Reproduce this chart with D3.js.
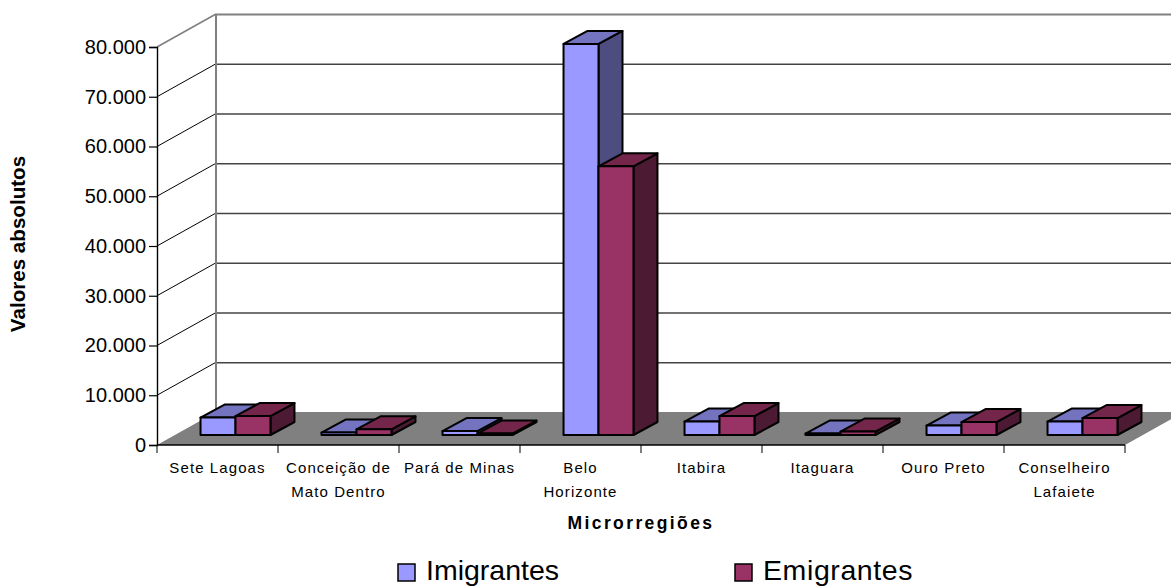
<!DOCTYPE html>
<html>
<head>
<meta charset="utf-8">
<script src="https://cdn.jsdelivr.net/npm/d3@7"></script>
<style>
    html, body { margin: 0; padding: 0; background: #fff; overflow: hidden; }
    text { font-family: "Liberation Sans", Arial, sans-serif; fill: #000; }
</style>
</head>
<body>
<div id="chart"></div>
<script>
var svgWidth = 1171;
var svgHeight = 586;

var categories = ["Sete Lagoas", "Conceição de Mato Dentro", "Pará de Minas", "Belo Horizonte",
    "Itabira", "Itaguara", "Ouro Preto", "Conselheiro Lafaiete"];
var categoryLines = [["Sete Lagoas"], ["Conceição de", "Mato Dentro"], ["Pará de Minas"], ["Belo", "Horizonte"],
    ["Itabira"], ["Itaguara"], ["Ouro Preto"], ["Conselheiro", "Lafaiete"]];
var seriesNames = ["Imigrantes", "Emigrantes"];
var imigrantes = [3500, 500, 800, 78600, 2700, 300, 1900, 2700];
var emigrantes = [3800, 1150, 300, 54000, 3800, 700, 2600, 3400];
var yTicks = [0, 10000, 20000, 30000, 40000, 50000, 60000, 70000, 80000];

// front, top and side shades of each series
var shades = [
    { front: "#9999ff", top: "#7373bf", side: "#4d4d80" },
    { front: "#993366", top: "#732649", side: "#4d1a33" }
];

// plot box on the front plane
var left = 157, right = 1125, bottom = 445, top_ = 47;

// oblique offsets: whole floor depth, bar depth, and gap in front of the bars
var depth = { x: 59, y: -33 };
var barDepth = { x: 24, y: -13 };
var barShift = { x: 18, y: -10 };

var svg = d3.select("#chart")
    .append("svg")
    .attr("width", svgWidth)
    .attr("height", svgHeight);

var xScale = d3.scaleBand()
    .domain(categories)
    .range([left, right])
    .paddingInner(0)
    .paddingOuter(0);

var xSeries = d3.scaleBand()
    .domain(seriesNames)
    .range([0, xScale.step()])
    .paddingOuter(0.73)
    .paddingInner(0);

var yScale = d3.scaleLinear()
    .domain([0, 80000])
    .range([bottom, top_]);

var formatTick = d3.format(",");

function points(list) {
    return list.map(p => p.join(",")).join(" ");
}

// back wall gridlines, clipped by the window on the right
svg.selectAll(".grid")
    .data(yTicks.slice(1))
    .enter()
    .append("line")
    .attr("x1", left + depth.x)
    .attr("x2", right + depth.x)
    .attr("y1", d => yScale(d) + depth.y + 0.5)
    .attr("y2", d => yScale(d) + depth.y + 0.5)
    .attr("stroke", d => d === 80000 ? "#808080" : "#444")
    .attr("stroke-width", d => d === 80000 ? 2 : 1.3);

// side wall lines
svg.selectAll(".wall")
    .data(yTicks.slice(1))
    .enter()
    .append("line")
    .attr("x1", left)
    .attr("y1", d => yScale(d))
    .attr("x2", left + depth.x)
    .attr("y2", d => yScale(d) + depth.y)
    .attr("stroke", d => d === 80000 ? "#808080" : "#000")
    .attr("stroke-width", d => d === 80000 ? 1.6 : 1);

svg.append("line")
    .attr("x1", left + depth.x)
    .attr("x2", left + depth.x)
    .attr("y1", yScale(80000) + depth.y)
    .attr("y2", bottom + depth.y)
    .attr("stroke", "#808080")
    .attr("stroke-width", 2);

// floor
svg.append("polygon")
    .attr("points", points([[left, bottom], [right, bottom],
        [right + depth.x, bottom + depth.y], [left + depth.x, bottom + depth.y]]))
    .attr("fill", "#808080");

// y axis
var yAxis = d3.axisLeft(yScale)
    .tickValues(yTicks)
    .tickSize(8)
    .tickPadding(3)
    .tickFormat(d => formatTick(d).replace(/,/g, "."));

var yAxisGroup = svg.append("g")
    .attr("transform", `translate(${left}, 0)`)
    .call(yAxis);

yAxisGroup.selectAll("text").attr("font-size", 20);
yAxisGroup.selectAll("line").attr("stroke-width", 1.2);
yAxisGroup.select(".domain").attr("stroke-width", 1.4);

// x axis line, with ticks on the band edges
svg.append("line")
    .attr("x1", left)
    .attr("x2", right)
    .attr("y1", bottom)
    .attr("y2", bottom)
    .attr("stroke", "#000")
    .attr("stroke-width", 1.4);

svg.selectAll(".xtick")
    .data(categories.concat("end"))
    .enter()
    .append("line")
    .attr("x1", (d, i) => left + i * xScale.step())
    .attr("x2", (d, i) => left + i * xScale.step())
    .attr("y1", bottom)
    .attr("y2", bottom + 8)
    .attr("stroke", "#000")
    .attr("stroke-width", 1);

// bars are drawn left to right so that later ones overlap earlier sides
function drawBar(category, seriesIndex, value) {
    var x0 = xScale(category) + xSeries(seriesNames[seriesIndex]) + barShift.x;
    var x1 = x0 + xSeries.bandwidth();
    var y0 = bottom + barShift.y;
    var y1 = yScale(value) + barShift.y;
    var dx = barDepth.x, dy = barDepth.y;
    var shade = shades[seriesIndex];

    var bar = svg.append("g")
        .attr("stroke", "#000")
        .attr("stroke-width", 2)
        .attr("stroke-linejoin", "round");

    bar.append("polygon")
        .attr("points", points([[x1, y0], [x1 + dx, y0 + dy], [x1 + dx, y1 + dy], [x1, y1]]))
        .attr("fill", shade.side);
    bar.append("polygon")
        .attr("points", points([[x0, y1], [x1, y1], [x1 + dx, y1 + dy], [x0 + dx, y1 + dy]]))
        .attr("fill", shade.top);
    bar.append("polygon")
        .attr("points", points([[x0, y0], [x1, y0], [x1, y1], [x0, y1]]))
        .attr("fill", shade.front);
}

categories.forEach(function(category, i) {
    drawBar(category, 0, imigrantes[i]);
    drawBar(category, 1, emigrantes[i]);
});

// category labels
var labels = svg.selectAll(".xlabel")
    .data(categories)
    .enter()
    .append("text")
    .attr("text-anchor", "middle")
    .attr("font-size", 15)
    .attr("letter-spacing", 1.1);

labels.each(function(d, i) {
    d3.select(this).selectAll("tspan")
        .data(categoryLines[i])
        .enter()
        .append("tspan")
        .attr("x", xScale(d) + xScale.bandwidth() / 2)
        .attr("y", (t, j) => 473 + j * 24)
        .text(t => t);
});

// axis titles
svg.append("text")
    .attr("x", 641)
    .attr("y", 529)
    .attr("text-anchor", "middle")
    .attr("font-size", 17.5)
    .attr("font-weight", "bold")
    .attr("letter-spacing", 2.4)
    .text("Microrregiões");

svg.append("text")
    .attr("transform", "translate(25, 244) rotate(-90)")
    .attr("text-anchor", "middle")
    .attr("font-size", 20.6)
    .attr("font-weight", "bold")
    .text("Valores absolutos");

// legend
var legendX = [398, 735];
var legendSpacing = [0, 0.6];
var legend = svg.selectAll(".legend")
    .data(seriesNames)
    .enter()
    .append("g")
    .attr("transform", (d, i) => `translate(${legendX[i]}, 564)`);

legend.append("rect")
    .attr("width", 17)
    .attr("height", 17)
    .attr("fill", (d, i) => shades[i].front)
    .attr("stroke", "#000")
    .attr("stroke-width", 1.5);

legend.append("text")
    .attr("x", 28)
    .attr("y", 15.5)
    .attr("font-size", 28.5)
    .attr("letter-spacing", (d, i) => legendSpacing[i])
    .text(d => d);
</script>
</body>
</html>
